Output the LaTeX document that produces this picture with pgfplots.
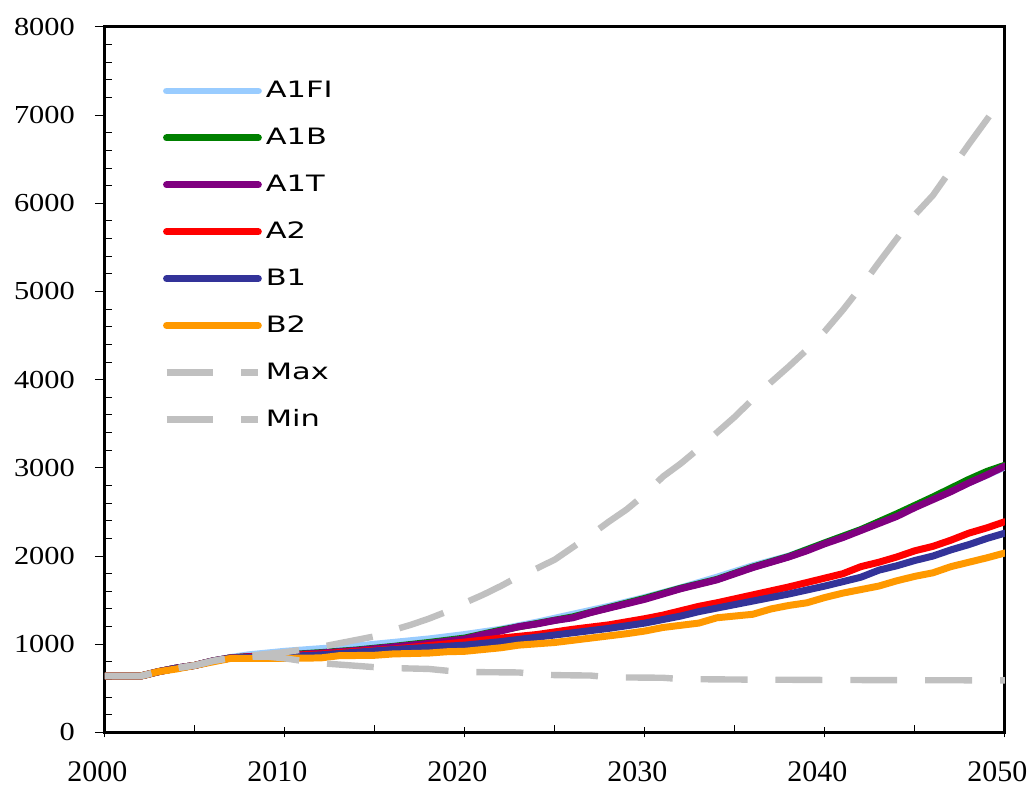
\documentclass[border=0pt]{standalone}
\usepackage{fontspec}
\setmainfont{Liberation Serif}
\newfontfamily\legfont[FakeStretch=1.35]{DejaVu Sans}
\newfontfamily\yfont[FakeStretch=1.17]{Liberation Serif}
\usepackage{pgfplots}
\pgfplotsset{compat=1.18}

\definecolor{aonefi}{HTML}{99CCFF}
\definecolor{aoneb}{HTML}{008000}
\definecolor{aonet}{HTML}{800080}
\definecolor{atwo}{HTML}{FF0000}
\definecolor{bone}{HTML}{333399}
\definecolor{btwo}{HTML}{FF9900}
\definecolor{env}{HTML}{C0C0C0}

\begin{document}
\begin{tikzpicture}
\begin{axis}[
  scale only axis, width=451pt, height=353.5pt,
  xmin=2000, xmax=2050, ymin=0, ymax=8000,
  xtick={2000,2010,...,2050}, ytick={0,1000,...,8000},
  minor x tick num=1, minor y tick num=4,
  xtick pos=bottom, ytick pos=left,
  tick align=inside,
  major tick length=5pt, minor tick length=3.5pt,
  tick style={black, line width=0.5pt},
  major x tick style={yshift=-2.5pt},
  major y tick style={xshift=-5pt},
  axis line style={line width=1.5pt},
  /pgf/number format/1000 sep={},
  /pgf/number format/assume math mode=true,
  x tick label style={font=\fontsize{15}{17}\selectfont, yshift=-11pt, xshift=-3.75pt},
  y tick label style={font=\yfont\fontsize{13}{15}\selectfont, xshift=-11.5pt},
  every axis plot/.append style={line width=3.5pt, line cap=round, line join=round},
  legend image code/.code={\draw[#1] (0pt,0pt) -- (46pt,0pt);},
  legend cell align=left,
  legend style={draw=none, fill=none, inner sep=0pt,
    at={(axis description cs:0.0643,0.943)}, anchor=north west,
    font=\legfont\fontsize{11.3}{13}\selectfont,
    nodes={inner sep=0pt, minimum height=23.5pt},
    row sep=0pt, column sep=2pt},
]
\addplot[aonefi] coordinates {
(2000,640)(2001,640)(2002,640)(2003,690)(2004,730)(2005,760)(2006,810)(2007,850)
(2008,880)(2009,900)(2010,920)(2012,950)(2014,980)(2016,1020)(2018,1060)(2020,1110)
(2022,1170)(2024,1250)(2026,1340)(2028,1430)(2030,1530)(2032,1640)(2034,1760)
(2036,1890)(2038,2000)(2040,2150)(2042,2300)(2044,2470)(2046,2650)(2048,2830)(2050,3010)};
\addlegendentry{A1FI}
\addplot[aoneb] coordinates {
(2000,640)(2002,640)(2003,690)(2004,730)(2005,760)(2006,810)(2007,845)(2008,860)
(2010,880)(2012,905)(2014,935)(2016,975)(2018,1020)(2020,1070)(2022,1160)(2024,1235)
(2026,1310)(2028,1415)(2030,1520)(2032,1635)(2034,1735)(2036,1875)(2038,1995)
(2040,2150)(2042,2300)(2044,2480)(2046,2670)(2048,2870)(2049,2960)(2050,3030)};
\addlegendentry{A1B}
\addplot[aonet] coordinates {
(2000,640)(2002,640)(2003,690)(2004,730)(2005,760)(2006,810)(2007,845)(2008,860)
(2010,875)(2012,900)(2014,930)(2016,970)(2018,1010)(2020,1060)(2021,1110)(2022,1150)
(2023,1200)(2024,1230)(2025,1270)(2026,1300)(2027,1360)(2028,1410)(2029,1460)
(2030,1510)(2031,1570)(2032,1630)(2033,1680)(2034,1730)(2035,1800)(2036,1870)
(2037,1930)(2038,1990)(2039,2060)(2040,2140)(2041,2210)(2042,2290)(2043,2370)
(2044,2450)(2045,2550)(2046,2640)(2047,2730)(2048,2830)(2049,2920)(2050,3020)};
\addlegendentry{A1T}
\addplot[atwo] coordinates {
(2000,640)(2002,640)(2003,690)(2004,730)(2005,760)(2006,810)(2007,845)(2008,855)
(2010,870)(2012,890)(2014,920)(2016,945)(2018,985)(2020,1025)(2022,1070)(2024,1110)
(2026,1170)(2028,1220)(2030,1290)(2031,1330)(2032,1380)(2033,1430)(2034,1470)
(2036,1560)(2038,1650)(2040,1750)(2041,1800)(2042,1880)(2043,1930)(2044,1990)
(2045,2060)(2046,2110)(2047,2180)(2048,2260)(2049,2320)(2050,2390)};
\addlegendentry{A2}
\addplot[bone] coordinates {
(2000,640)(2002,640)(2003,690)(2004,730)(2005,760)(2006,810)(2007,845)(2008,850)
(2010,860)(2012,880)(2014,910)(2016,940)(2018,965)(2020,990)(2022,1030)(2024,1080)
(2026,1130)(2028,1180)(2030,1240)(2031,1280)(2032,1320)(2033,1370)(2034,1410)
(2036,1490)(2038,1570)(2040,1660)(2042,1760)(2043,1840)(2044,1890)(2045,1950)
(2046,2000)(2047,2070)(2048,2130)(2049,2200)(2050,2260)};
\addlegendentry{B1}
\addplot[btwo] coordinates {
(2000,640)(2002,640)(2003,690)(2004,720)(2005,760)(2006,800)(2007,840)(2010,840)
(2012,845)(2013,870)(2015,875)(2016,890)(2018,900)(2019,915)(2020,920)(2022,960)
(2023,990)(2025,1020)(2027,1070)(2029,1120)(2030,1150)(2031,1190)(2033,1240)
(2034,1300)(2036,1340)(2037,1400)(2038,1440)(2039,1470)(2040,1530)(2041,1580)
(2042,1620)(2043,1660)(2044,1720)(2045,1770)(2046,1810)(2047,1880)(2048,1930)
(2049,1980)(2050,2035)};
\addlegendentry{B2}
\addplot[env, line width=3.2pt, line cap=butt, dash pattern=on 23.5pt off 14pt] coordinates {
(2000,640)(2002,640)(2003,690)(2004,730)(2005,760)(2006,810)(2007,845)(2008,870)
(2009,890)(2010,910)(2011,940)(2012,970)(2013,1010)(2014,1050)(2015,1090)(2016,1160)
(2017,1220)(2018,1290)(2019,1370)(2020,1470)(2021,1560)(2022,1660)(2023,1770)
(2024,1860)(2025,1960)(2026,2100)(2027,2240)(2028,2390)(2029,2530)(2030,2700)
(2031,2900)(2032,3050)(2033,3220)(2034,3400)(2035,3580)(2036,3780)(2037,3970)
(2038,4150)(2039,4340)(2040,4550)(2041,4790)(2042,5050)(2043,5330)(2044,5600)
(2045,5870)(2046,6090)(2047,6380)(2048,6670)(2049,6950)(2050,7240)};
\addlegendentry{Max}
\addplot[env, line width=3.2pt, line cap=butt, dash pattern=on 23.5pt off 14pt] coordinates {
(2000,640)(2002,640)(2003,690)(2004,730)(2005,760)(2006,810)(2007,845)(2008,860)
(2009,860)(2010,840)(2011,810)(2012,785)(2013,770)(2014,755)(2015,740)(2016,730)
(2018,720)(2019,700)(2020,685)(2023,680)(2024,660)(2025,650)(2027,645)(2028,625)
(2031,620)(2032,605)(2035,600)(2040,595)(2050,590)};
\addlegendentry{Min}
\end{axis}
\path ([xshift=-52.5pt,yshift=-26.5pt]current axis.south west) rectangle ([xshift=13.5pt,yshift=13.5pt]current axis.north east);
\end{tikzpicture}
\end{document}
